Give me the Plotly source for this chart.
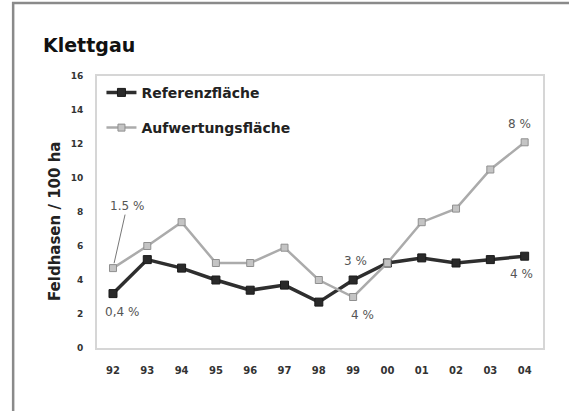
import plotly.graph_objects as go

years = ["92", "93", "94", "95", "96", "97", "98", "99", "00", "01", "02", "03", "04"]
referenz = [3.2, 5.2, 4.7, 4.0, 3.4, 3.7, 2.7, 4.0, 5.0, 5.3, 5.0, 5.2, 5.4]
aufwertung = [4.7, 6.0, 7.4, 5.0, 5.0, 5.9, 4.0, 3.0, 5.0, 7.4, 8.2, 10.5, 12.1]
y_ticks = [0, 2, 4, 6, 8, 10, 12, 14, 16]
y_ticktext = ["0", "2", "4", "6", "8", "10", "12", "14", "16"]

xi = list(range(len(years)))
FONT = "DejaVu Sans"

fig = go.Figure()
fig.add_trace(go.Scatter(
    x=xi, y=referenz, name="Referenzfläche", mode="lines+markers",
    line=dict(color="#2e2e2e", width=3.5),
    marker=dict(symbol="square", size=8, color="#2a2a2a", line=dict(color="#1a1a1a", width=1)),
    legendgroup="a",
))
fig.add_trace(go.Scatter(
    x=xi, y=aufwertung, name="Aufwertungsfläche", mode="lines+markers",
    line=dict(color="#ababab", width=2.5),
    marker=dict(symbol="square", size=7, color="#c4c4c4", line=dict(color="#8f8f8f", width=1)),
    legendgroup="b",
))

ann_style = dict(showarrow=False, font=dict(family=FONT, size=12, color="#555555"))
annotations = [
    dict(x=0, y=aufwertung[0], xref="x", yref="y", text="1.5 %", showarrow=True,
         ax=14, ay=-62, arrowhead=0, arrowwidth=1, arrowcolor="#777777", standoff=5,
         font=dict(family=FONT, size=12, color="#555555")),
    dict(x=0, y=referenz[0], xref="x", yref="y", text="0,4 %", xshift=9, yshift=-18, **ann_style),
    dict(x=7, y=referenz[7], xref="x", yref="y", text="3 %", xshift=2, yshift=19, **ann_style),
    dict(x=7, y=aufwertung[7], xref="x", yref="y", text="4 %", xshift=9, yshift=-18, **ann_style),
    dict(x=12, y=aufwertung[12], xref="x", yref="y", text="8 %", xshift=-5, yshift=18, **ann_style),
    dict(x=12, y=referenz[12], xref="x", yref="y", text="4 %", xshift=-3, yshift=-18, **ann_style),
    dict(x=-0.126, y=1.114, xref="paper", yref="paper", text="<b>Klettgau</b>",
         xanchor="left", yanchor="middle", showarrow=False,
         font=dict(family=FONT, size=19, color="#111111")),
    dict(x=-0.094, y=0.467, xref="paper", yref="paper", text="<b>Feldhasen / 100 ha</b>",
         textangle=-90, xanchor="center", yanchor="middle", showarrow=False,
         font=dict(family=FONT, size=15, color="#222222")),
]

fig.update_layout(
    width=569, height=411,
    margin=dict(l=97, r=26, t=76, b=63),
    paper_bgcolor="white", plot_bgcolor="white",
    showlegend=True,
    legend=dict(x=0.01, y=0.997, xanchor="left", yanchor="top",
                font=dict(family=FONT, size=14, color="#222222", weight="bold"),
                itemwidth=30, tracegroupgap=14, bgcolor="rgba(0,0,0,0)"),
    annotations=annotations,
    shapes=[dict(type="path", xref="paper", yref="paper",
                 path="M -0.188 -0.3 L -0.188 1.268 L 1.1 1.268",
                 line=dict(color="#8a8a8a", width=2.5))],
)
fig.update_xaxes(
    range=[-0.466, 12.535], tickmode="array", tickvals=xi, ticktext=years,
    showgrid=False, zeroline=False, showline=True, linecolor="#d6d6d6", linewidth=2,
    mirror=True, ticks="", ticklabelstandoff=12,
    tickfont=dict(family=FONT, size=10, color="#333333", weight="bold"),
)
fig.update_yaxes(
    range=[0, 16], tickmode="array", tickvals=y_ticks, ticktext=y_ticktext,
    showgrid=False, zeroline=False, showline=True, linecolor="#d6d6d6", linewidth=2,
    mirror=True, ticks="", ticklabelstandoff=10,
    tickfont=dict(family=FONT, size=9, color="#333333", weight="bold"),
)
fig.write_html("out.html", config={"displayModeBar": False},
               post_script="document.body.style.margin='0';")
